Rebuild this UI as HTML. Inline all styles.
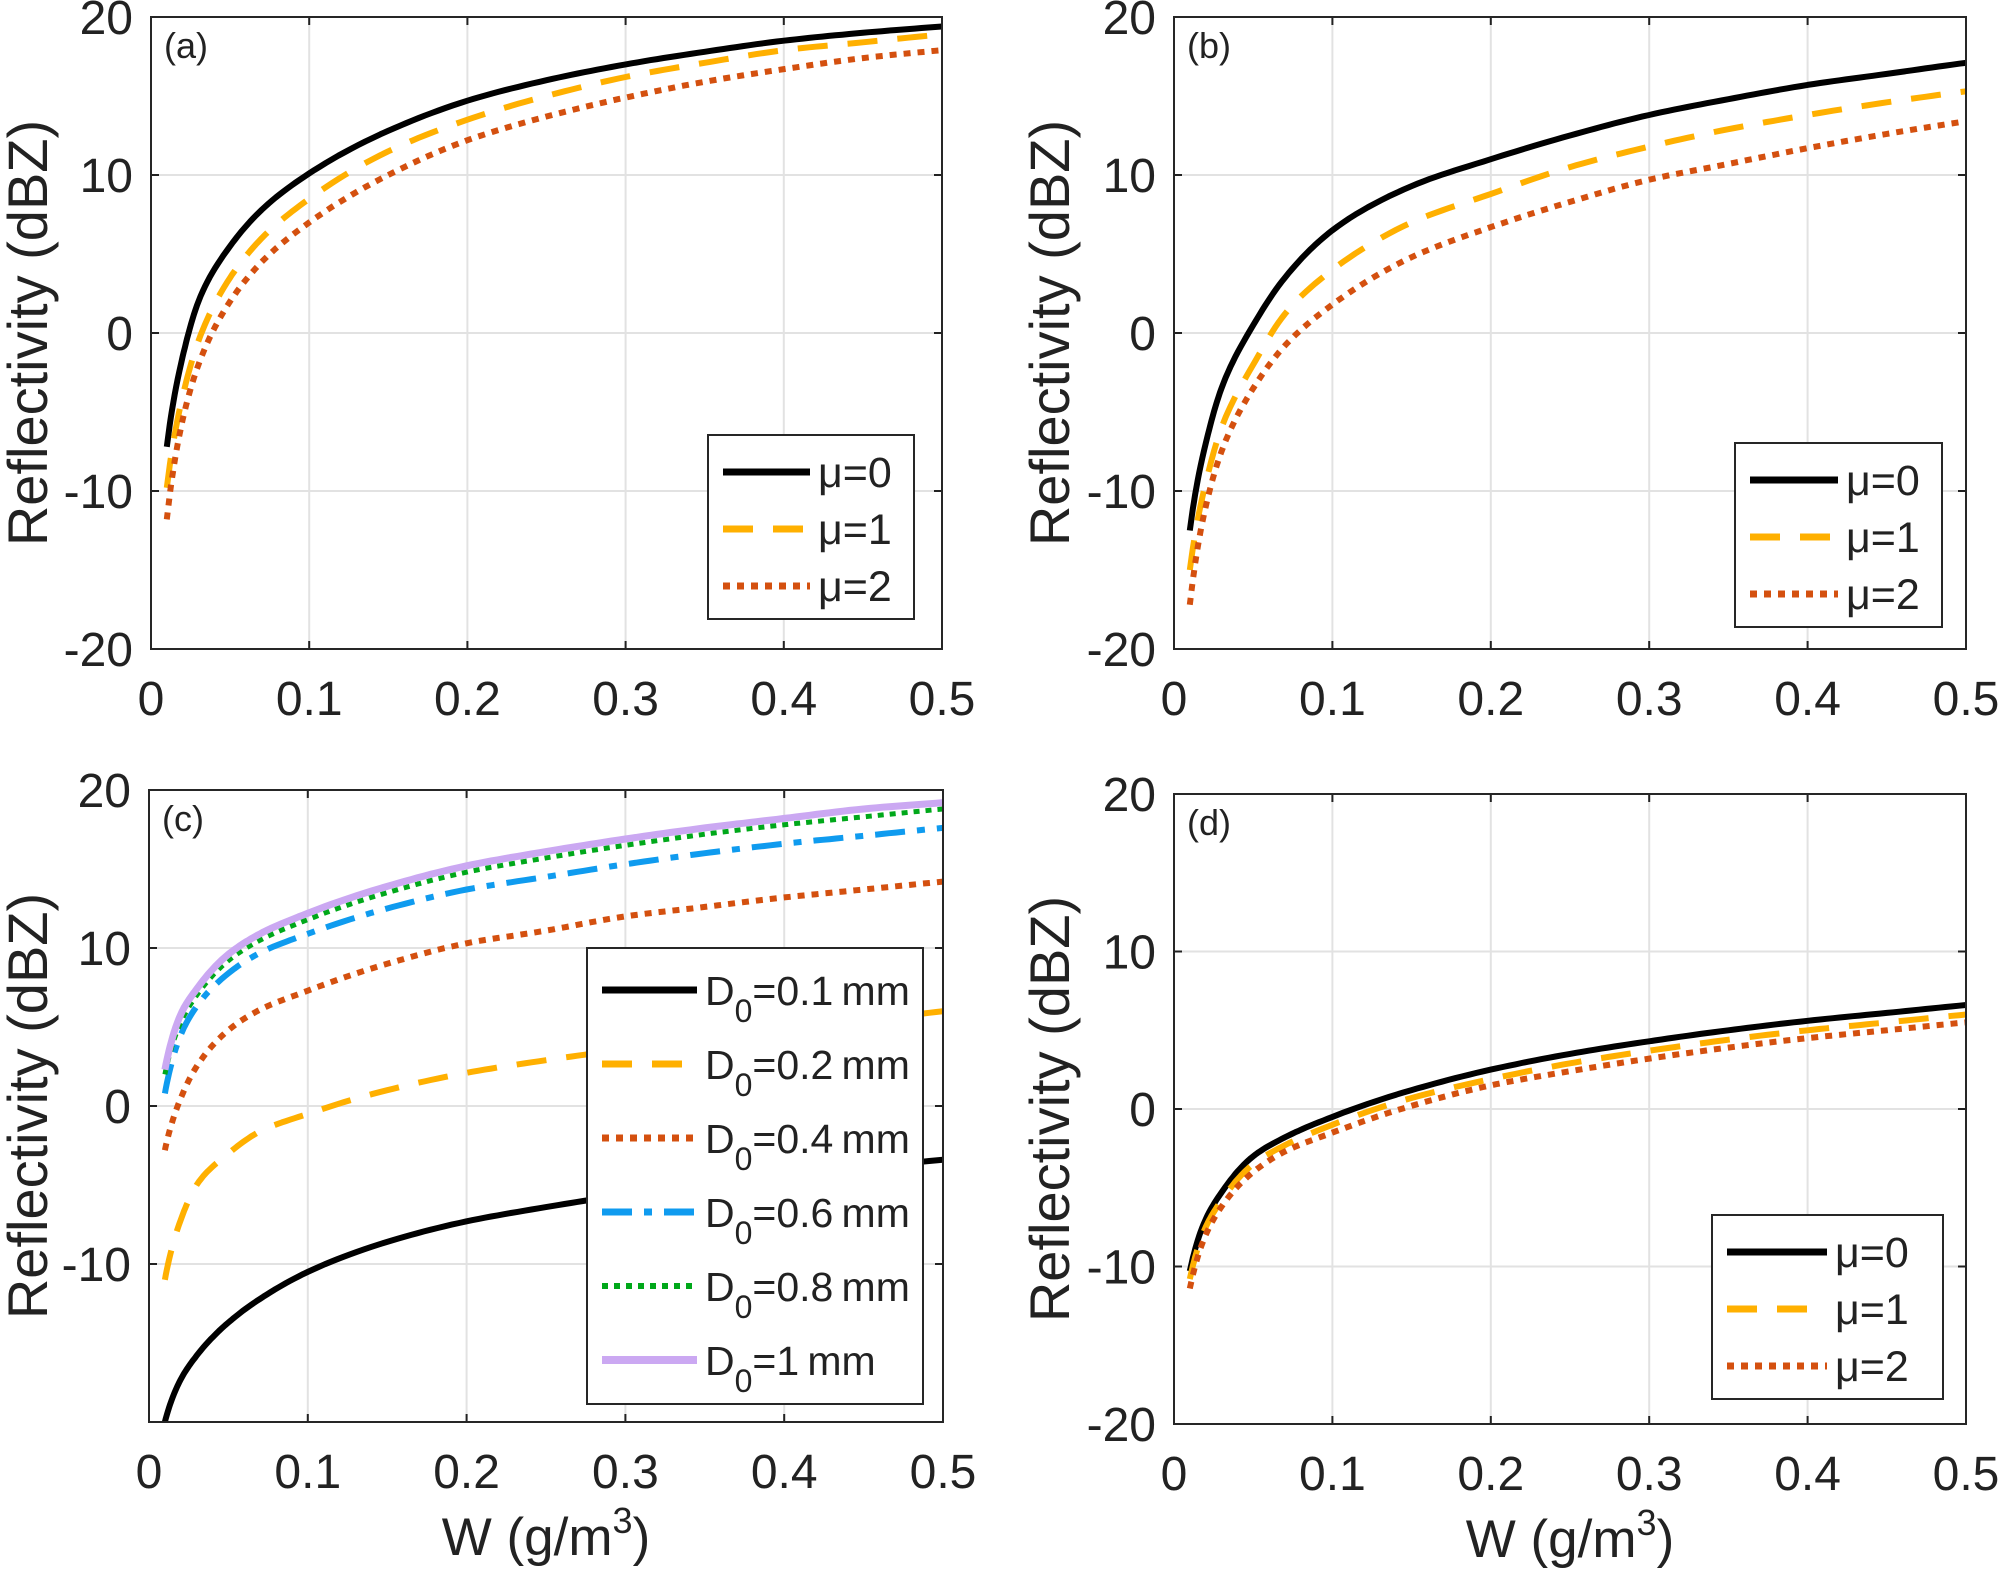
<!DOCTYPE html>
<html><head><meta charset="utf-8"><style>
html,body{margin:0;padding:0;background:#fff}
svg{display:block}
text{font-family:"Liberation Sans",sans-serif;fill:#222}
</style></head><body>
<svg id="fig" width="2001" height="1575" viewBox="0 0 2001 1575" xmlns="http://www.w3.org/2000/svg"></svg>
<script>
const W = [0.01,0.02,0.03,0.05,0.07,0.1,0.15,0.2,0.25,0.3,0.35,0.4,0.45,0.5];
const xTicks = [0,0.1,0.2,0.3,0.4,0.5];
const xTickLabels = ["0","0.1","0.2","0.3","0.4","0.5"];
const yTicks = [-20,-10,0,10,20];
const yTickLabels = ["-20","-10","0","10","20"];
const muLabels = ["μ=0","μ=1","μ=2"];
const dLabels = ["0.1","0.2","0.4","0.6","0.8","1"];
const aMu0 = [-7.2,-1.5,2,5.5,7.8,10.1,12.8,14.7,16.0,17.0,17.8,18.5,19.0,19.4];
const aMu1 = [-9.8,-4,-0.5,3.5,6,8.5,11.5,13.5,15,16.2,17.1,17.9,18.4,18.9];
const aMu2 = [-11.8,-5.5,-2,2,4.5,7,10,12.2,13.7,14.9,15.9,16.7,17.4,17.9];
const bMu0 = [-12.5,-7,-3.5,0.5,3.5,6.5,9.3,11.0,12.5,13.8,14.8,15.7,16.4,17.1];
const bMu1 = [-15,-9.5,-6,-2,1.2,4,7,8.8,10.5,11.8,12.9,13.8,14.6,15.3];
const bMu2 = [-17.2,-11,-7.5,-3.5,-0.8,1.8,4.8,6.7,8.3,9.7,10.7,11.7,12.6,13.4];
const cD01 = [-20,-17.3,-15.8,-13.7,-12.2,-10.5,-8.6,-7.3,-6.4,-5.6,-4.9,-4.4,-3.9,-3.4];
const cD02 = [-11,-7.2,-5,-3,-1.6,-0.5,1.0,2.1,2.9,3.6,4.3,4.9,5.4,6.0];
const cD04 = [-2.8,0.5,2.5,4.8,6.1,7.3,9,10.3,11.1,12,12.6,13.2,13.7,14.2];
const cD06 = [0.8,4.5,6.3,8.4,9.7,10.9,12.5,13.7,14.5,15.3,16.0,16.6,17.1,17.6];
const cD08 = [2,5.3,7.0,9.2,10.5,11.8,13.5,14.8,15.7,16.5,17.2,17.8,18.3,18.8];
const cD10 = [2.3,5.8,7.4,9.6,10.9,12.2,13.9,15.2,16.1,16.9,17.6,18.2,18.8,19.2];
const dMu0 = [-10.3,-7,-5.3,-3,-1.8,-0.5,1.2,2.5,3.5,4.3,5,5.6,6.1,6.6];
const dMu1 = [-10.8,-7.5,-5.8,-3.5,-2.3,-1,0.7,1.9,2.9,3.7,4.4,5,5.5,6.0];
const dMu2 = [-11.4,-8,-6.2,-4,-2.7,-1.5,0.2,1.5,2.4,3.2,3.9,4.5,5.0,5.5];

const NS="http://www.w3.org/2000/svg";
const svg=document.getElementById('fig');
function el(tag,attrs,parent){const e=document.createElementNS(NS,tag);for(const k in attrs)e.setAttribute(k,attrs[k]);(parent||svg).appendChild(e);return e;}

const ST={
 solid:{color:"#000000",dash:"",w:6},
 dash:{color:"#FFB000",dash:"30 20",w:6},
 dot:{color:"#D4500F",dash:"7 7",w:6},
 dashdot:{color:"#0F9BEF",dash:"30 12 8 12",w:6},
 gdot:{color:"#00A81A",dash:"6 6",w:5},
 purple:{color:"#CBA8F2",dash:"",w:7}
};

// cubic Hermite interpolation in log(W) space, sampled densely
function curvePts(data){
  const u=W.map(Math.log);const n=W.length;
  const m=data.map((v,i)=>{
    if(i===0) return (data[1]-data[0])/(u[1]-u[0]);
    if(i===n-1) return (data[n-1]-data[n-2])/(u[n-1]-u[n-2]);
    return ((data[i]-data[i-1])/(u[i]-u[i-1])+(data[i+1]-data[i])/(u[i+1]-u[i]))/2;
  });
  const out=[[W[0],data[0]]];
  for(let i=0;i<n-1;i++){
    const h=u[i+1]-u[i];
    for(let k=1;k<=12;k++){
      const t=k/12,t2=t*t,t3=t2*t;
      const v=(2*t3-3*t2+1)*data[i]+(t3-2*t2+t)*h*m[i]+(-2*t3+3*t2)*data[i+1]+(t3-t2)*h*m[i+1];
      out.push([Math.exp(u[i]+t*h),v]);
    }
  }
  return out;
}

function panel(id,L,R,T,B,label,series,legend,ylabelX,xlabel){
  const g=el('g',{});
  
  
  const xs=v=>L+(v-0)/(0.5)*(R-L);
  const ys=v=>B-(v+20)/40*(B-T);
  xTicks.forEach((t,i)=>{
    if(i>0&&i<xTicks.length-1){const l=el('line',{x1:xs(t),x2:xs(t),y1:T,y2:B,stroke:"#e2e2e2","stroke-width":2},g);
    }
    const tk=el('path',{d:`M${xs(t)},${B}v-8M${xs(t)},${T}v8`,stroke:"#222","stroke-width":2},g);
    
    const tx=el('text',{x:xs(t),y:B+66,"text-anchor":"middle","font-size":48},g);
    tx.textContent=xTickLabels[i];
    
  });
  yTicks.forEach((t,i)=>{
    if(i>0&&i<yTicks.length-1){const l=el('line',{x1:L,x2:R,y1:ys(t),y2:ys(t),stroke:"#e2e2e2","stroke-width":2},g);
    }
    const tk=el('path',{d:`M${L},${ys(t)}h8M${R},${ys(t)}h-8`,stroke:"#222","stroke-width":2},g);
    
    if(id==='c'&&t===-20) return;
    const tx=el('text',{x:L-18,y:ys(t)+17,"text-anchor":"end","font-size":48},g);
    tx.textContent=yTickLabels[i];
    
  });
  const cp=el('clipPath',{id:'clip'+id},g);
  el('rect',{x:L,y:T,width:R-L,height:B-T},cp);
  series.forEach(s=>{
    const st=ST[s.style];
    const d=curvePts(s.data).map((p,i)=>(i?'L':'M')+xs(p[0]).toFixed(1)+','+ys(p[1]).toFixed(1)).join('');
    const p=el('path',{d:d,fill:"none",stroke:st.color,"stroke-width":st.w,"stroke-dasharray":st.dash,"stroke-linejoin":"round","clip-path":`url(#clip${id})`},g);
    
  });
  const fr=el('rect',{x:L,y:T,width:R-L,height:B-T,fill:"none",stroke:"#262626","stroke-width":2},g);
  
  const pl=el('text',{x:L+13,y:T+41,"font-size":36,fill:"#000"},g);
  pl.textContent=label;
  const yl=el('text',{x:0,y:0,"text-anchor":"middle","font-size":56,transform:`translate(${ylabelX},${(T+B)/2}) rotate(-90)`},g);
  yl.textContent="Reflectivity (dBZ)";
  if(xlabel){
    const xl=el('text',{x:(L+R)/2,y:B+133,"text-anchor":"middle","font-size":53},g);
    xl.innerHTML='W (g/m<tspan dy="-22" font-size="36">3</tspan><tspan dy="22">)</tspan>';
    
  }
  const lg=el('g',{},g);
  const lb=el('rect',{x:legend.x,y:legend.y,width:legend.w,height:legend.h,fill:"#fff",stroke:"#262626","stroke-width":2},lg);
  
  series.forEach((s,i)=>{
    const st=ST[s.style];const cy=legend.y+legend.top+i*legend.step;
    const ln=el('line',{x1:legend.x+15,x2:legend.x+legend.lw,y1:cy,y2:cy,stroke:st.color,"stroke-width":st.w+1,"stroke-dasharray":st.dash},lg);
    
    const tx=el('text',{x:legend.x+legend.lw+8,y:cy+15,"font-size":legend.fs,fill:"#000"},lg);
    if(s.sub) tx.innerHTML='D<tspan dy="17" font-size="32">0</tspan><tspan dy="-17">='+s.sub+'\u2009mm</tspan>';
    else tx.textContent=s.text;
    
  });
}
panel('a',151,942,17,649,'(a)',
 [{name:'mu0',style:'solid',data:aMu0,text:muLabels[0]},{name:'mu1',style:'dash',data:aMu1,text:muLabels[1]},{name:'mu2',style:'dot',data:aMu2,text:muLabels[2]}],
 {x:708,y:435,w:206,h:184,top:37,step:57,lw:102,fs:43},47,false);
panel('b',1174,1966,17,649,'(b)',
 [{name:'mu0',style:'solid',data:bMu0,text:muLabels[0]},{name:'mu1',style:'dash',data:bMu1,text:muLabels[1]},{name:'mu2',style:'dot',data:bMu2,text:muLabels[2]}],
 {x:1735,y:443,w:207,h:184,top:37,step:57,lw:103,fs:43},1069,false);
panel('c',149,943,790,1422,'(c)',
 [{name:'d01',style:'solid',data:cD01,sub:dLabels[0]},{name:'d02',style:'dash',data:cD02,sub:dLabels[1]},{name:'d04',style:'dot',data:cD04,sub:dLabels[2]},
  {name:'d06',style:'dashdot',data:cD06,sub:dLabels[3]},{name:'d08',style:'gdot',data:cD08,sub:dLabels[4]},{name:'d10',style:'purple',data:cD10,sub:dLabels[5]}],
 {x:587,y:948,w:336,h:456,top:42,step:74,lw:110,fs:41},47,true);
panel('d',1174,1966,794,1424,'(d)',
 [{name:'mu0',style:'solid',data:dMu0,text:muLabels[0]},{name:'mu1',style:'dash',data:dMu1,text:muLabels[1]},{name:'mu2',style:'dot',data:dMu2,text:muLabels[2]}],
 {x:1712,y:1215,w:231,h:184,top:37,step:57,lw:115,fs:43},1069,true);
</script>
</body></html>
